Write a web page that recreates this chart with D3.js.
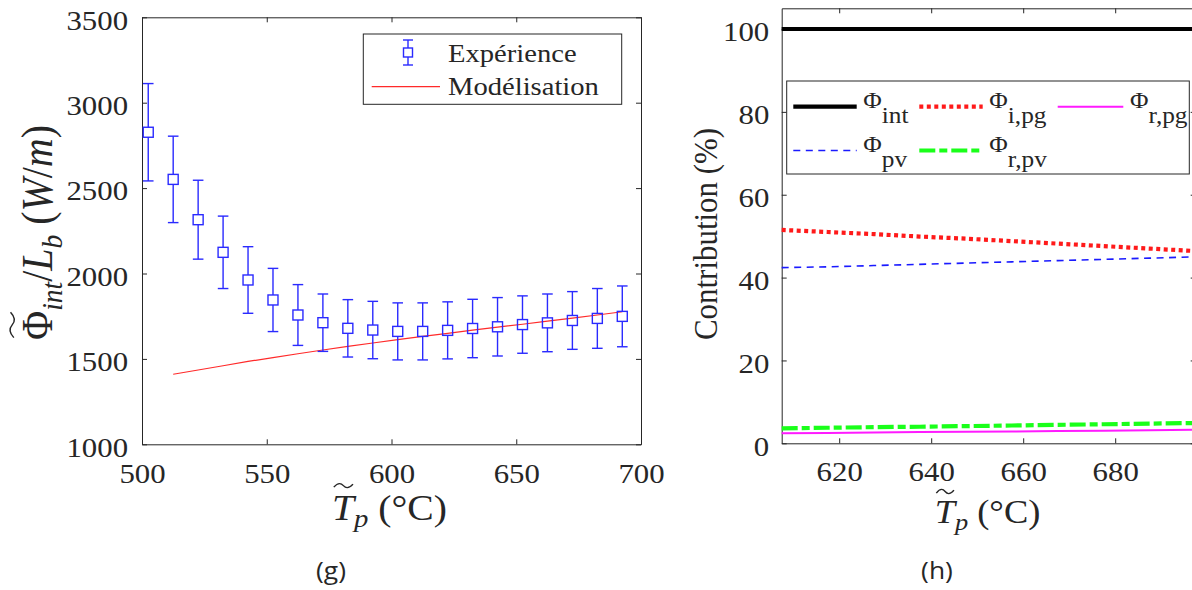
<!DOCTYPE html>
<html><head><meta charset="utf-8">
<script src="https://cdn.jsdelivr.net/npm/d3@7"></script>
<style>html,body{margin:0;padding:0;background:#fff;}svg{display:block;}</style>
</head><body>
<svg id="c" width="1192" height="590"></svg>
<script>
// ---------- data ----------
const expX   = [502.5,512.5,522.5,532.5,542.5,552.5,562.5,572.5,582.5,592.5,602.5,612.5,622.5,632.5,642.5,652.5,662.5,672.5,682.5,692.5];
const expY   = [2827,2551,2315,2124,1962,1845,1757,1712,1679,1669,1661,1661,1667,1678,1688,1701,1711,1725,1737,1749];
const expErr = [285,253,231,212,195,185,178,168,168,168,167,167,167,171,171,168,169,169,175,178];
const modX   = [512.5,522.5,532.5,542.5,552.5,562.5,572.5,582.5,592.5,602.5,612.5,622.5,632.5,642.5,652.5,662.5,672.5,682.5,692.5];
const modY   = [1410,1435,1460,1485,1508,1530,1552,1573,1593,1613,1632,1650,1668,1686,1703,1721,1739,1757,1776];
const leftXTicks = [500,550,600,650,700];
const leftYTicks = [1000,1500,2000,2500,3000,3500];

const contribX = [607.5,617.5,627.5,637.5,647.5,657.5,667.5,677.5,687.5,697.5];
const phiInt = [100,100,100,100,100,100,100,100,100,100];
const phiIpg = [51.5,51.0,50.5,49.9,49.4,48.8,48.2,47.6,47.0,46.4];
const phiPv  = [42.4,42.6,42.9,43.2,43.5,43.8,44.1,44.4,44.7,45.0];
const phiRpv = [3.6,3.75,3.9,4.0,4.15,4.3,4.45,4.6,4.75,4.9];
const phiRpg = [2.4,2.5,2.6,2.7,2.8,2.85,2.95,3.05,3.15,3.25];
const rightXTicks = [620,640,660,680];
const rightYTicks = [0,20,40,60,80,100];
const seriesNames = ["int","i,pg","r,pg","pv","r,pv"];

// ---------- setup ----------
const SX = 1.1;
const SERIF = "'Liberation Serif','Times New Roman',serif";
const INK = "#262626";
const svg = d3.select("#c");

function buildText(tx, ty, rot, segs, size, anchor, family) {
  const g = svg.append("g").attr("transform", `translate(${tx},${ty}) scale(${SX},1)` + (rot ? ` rotate(${rot})` : ""));
  const t = g.append("text").attr("font-family", family || SERIF).attr("font-size", size)
    .attr("fill", INK).attr("text-anchor", anchor || "start");
  let cur = 0;
  segs.forEach(s => {
    const sp = t.append("tspan").text(s.t);
    if (s.italic) sp.attr("font-style", "italic");
    if (s.size) sp.attr("font-size", s.size);
    const target = s.dy || 0;
    if (target !== cur) { sp.attr("dy", target - cur); cur = target; }
  });
  return {g, t};
}
function richText(tx, ty, rot, segs, size, anchor, family, fitLen) {
  let o = buildText(tx, ty, rot, segs, size, anchor, family);
  if (fitLen) {
    const k = fitLen / o.t.node().getComputedTextLength();
    o.g.remove();
    o = buildText(tx, ty, rot, segs.map(s => Object.assign({}, s, {size: s.size ? s.size*k : undefined, dy: s.dy ? s.dy*k : 0})), size*k, anchor, family);
  }
  return o;
}
function addTilde(obj, charIndex, lift) {
  const e = obj.t.node().getExtentOfChar(charIndex);
  const x0 = e.x + e.width * 0.08, x1 = e.x + e.width * 0.95, w = x1 - x0;
  const y = e.y + lift;
  const p = d3.path();
  p.moveTo(x0, y + 1.5);
  p.bezierCurveTo(x0 + w * 0.25, y - 4, x0 + w * 0.4, y - 2, x0 + w * 0.5, y);
  p.bezierCurveTo(x0 + w * 0.6, y + 2, x0 + w * 0.75, y + 4, x1, y - 1.5);
  obj.g.append("path").attr("d", p.toString()).attr("fill", "none").attr("stroke", INK).attr("stroke-width", 1.3);
}
function styleTicks(sel, size) {
  sel.selectAll("text").attr("font-family", SERIF).attr("font-size", size).attr("fill", INK)
    .attr("transform", `scale(${SX},1)`);
  sel.selectAll("line").attr("stroke", INK);
  sel.select(".domain").attr("stroke", INK);
}
const fmt = d3.format("d");

// ---------- left chart (g) ----------
const xL = d3.scaleLinear().domain([500,700]).range([142,641]);
const yL = d3.scaleLinear().domain([1000,3500]).range([444.3,17.3]);

const gLB = svg.append("g").attr("transform", `translate(0,${yL.range()[0]})`)
  .call(d3.axisBottom(xL).tickValues(leftXTicks).tickFormat(fmt).tickSizeInner(-5).tickSizeOuter(0).tickPadding(19));
styleTicks(gLB, 28);
const gLT = svg.append("g").attr("transform", `translate(0,${yL.range()[1]})`)
  .call(d3.axisTop(xL).tickValues(leftXTicks).tickSizeInner(-5).tickSizeOuter(0).tickFormat(""));
styleTicks(gLT, 28);
const gLL = svg.append("g").attr("transform", `translate(${xL.range()[0]},0)`)
  .call(d3.axisLeft(yL).tickValues(leftYTicks).tickFormat(fmt).tickSizeInner(-5).tickSizeOuter(0).tickPadding(12.7));
styleTicks(gLL, 28); gLL.selectAll("text").attr("dy", "0.42em");
const gLR = svg.append("g").attr("transform", `translate(${xL.range()[1]},0)`)
  .call(d3.axisRight(yL).tickValues(leftYTicks).tickSizeInner(-5).tickSizeOuter(0).tickFormat(""));
styleTicks(gLR, 28);

// model line
svg.append("path").datum(modX.map((x,i)=>[x,modY[i]]))
  .attr("d", d3.line().x(d=>xL(d[0])).y(d=>yL(d[1])))
  .attr("fill","none").attr("stroke","#ff2a2a").attr("stroke-width",1.2);

// error bars
const BLUE = "#2a2aff";
const eb = svg.append("g").attr("stroke", BLUE).attr("stroke-width", 1.4).attr("fill","none");
expX.forEach((x,i) => {
  const cx = xL(x), cy = yL(expY[i]), t = yL(expY[i]+expErr[i]), b = yL(expY[i]-expErr[i]);
  eb.append("line").attr("x1",cx).attr("x2",cx).attr("y1",t).attr("y2",cy-5);
  eb.append("line").attr("x1",cx).attr("x2",cx).attr("y1",cy+5).attr("y2",b);
  eb.append("line").attr("x1",cx-5.3).attr("x2",cx+5.3).attr("y1",t).attr("y2",t);
  eb.append("line").attr("x1",cx-5.3).attr("x2",cx+5.3).attr("y1",b).attr("y2",b);
  eb.append("rect").attr("x",cx-5).attr("y",cy-5).attr("width",10).attr("height",10);
});

// left legend
svg.append("rect").attr("x",363.3).attr("y",34).attr("width",258.4).attr("height",70.3)
  .attr("fill","#fff").attr("stroke",INK).attr("stroke-width",1);
const lg = svg.append("g").attr("stroke", BLUE).attr("stroke-width",1.4).attr("fill","none");
lg.append("line").attr("x1",408).attr("x2",408).attr("y1",40).attr("y2",65);
lg.append("line").attr("x1",403).attr("x2",413).attr("y1",40).attr("y2",40);
lg.append("line").attr("x1",403).attr("x2",413).attr("y1",65).attr("y2",65);
lg.append("rect").attr("x",403.5).attr("y",48).attr("width",9).attr("height",9).attr("fill","#fff");
svg.append("line").attr("x1",371.7).attr("x2",440).attr("y1",86.7).attr("y2",86.7).attr("stroke","#ff2a2a").attr("stroke-width",1.2);
richText(448, 62, 0, [{t:"Expérience"}], 26);
richText(448, 95, 0, [{t:"Modélisation"}], 26);

// left axis labels
const ylab = richText(52, 232.5, -90, [
  {t:"Φ"}, {t:"int", italic:true, size:22, dy:7}, {t:"/", dy:0}, {t:"L", italic:true},
  {t:"b", italic:true, size:22, dy:7}, {t:" (", dy:0}, {t:"W", italic:true}, {t:"/"}, {t:"m", italic:true}, {t:")"}
], 32, "middle", null, 215);
addTilde(ylab, 0, -1);
const xlabL = richText(389.5, 520, 0, [{t:"T", italic:true}, {t:"p", italic:true, size:21, dy:6}, {t:"  (°C)", dy:0}], 29, "middle", null, 104.5);
addTilde(xlabL, 0, -2);

// ---------- right chart (h) ----------
const xR = d3.scaleLinear().domain([607.5,697.5]).range([781.7,1195.7]);
const yR = d3.scaleLinear().domain([0,105]).range([443.3,8.3]);

const gRB = svg.append("g").attr("transform", `translate(0,${yR.range()[0]})`)
  .call(d3.axisBottom(xR).tickValues(rightXTicks).tickFormat(fmt).tickSizeInner(-5).tickSizeOuter(0).tickPadding(18));
styleTicks(gRB, 28);
const gRT = svg.append("g").attr("transform", `translate(0,${yR.range()[1]})`)
  .call(d3.axisTop(xR).tickValues(rightXTicks).tickSizeInner(-5).tickSizeOuter(0).tickFormat(""));
styleTicks(gRT, 28);
const gRL = svg.append("g").attr("transform", `translate(${xR.range()[0]},0)`)
  .call(d3.axisLeft(yR).tickValues(rightYTicks).tickFormat(fmt).tickSizeInner(-5).tickSizeOuter(0).tickPadding(11.3));
styleTicks(gRL, 28); gRL.selectAll("text").attr("dy", "0.42em");
const gRR = svg.append("g").attr("transform", `translate(${xR.range()[1]},0)`)
  .call(d3.axisRight(yR).tickValues(rightYTicks).tickSizeInner(-5).tickSizeOuter(0).tickFormat(""));
styleTicks(gRR, 28);

const styles = {
  "int":  {data: phiInt, color:"#000000", w:4.2, dash:null},
  "i,pg": {data: phiIpg, color:"#ff1a1a", w:4.2, dash:"4,3.5"},
  "r,pg": {data: phiRpg, color:"#ff1aff", w:2, dash:null},
  "pv":   {data: phiPv,  color:"#1a1aff", w:1.6, dash:"7,5.5"},
  "r,pv": {data: phiRpv, color:"#1aff1a", w:4.2, dash:"16,4,8,4"}
};
const lineR = d3.line().x(d=>xR(d[0])).y(d=>yR(d[1]));
["r,pg","r,pv","pv","i,pg","int"].forEach(k => {
  const s = styles[k];
  svg.append("path").datum(contribX.map((x,i)=>[x,s.data[i]])).attr("d", lineR)
    .attr("fill","none").attr("stroke", s.color).attr("stroke-width", s.w)
    .attr("stroke-dasharray", s.dash);
});

// right legend
svg.append("rect").attr("x",786.7).attr("y",81).attr("width",402.6).attr("height",93)
  .attr("fill","#fff").attr("stroke",INK).attr("stroke-width",1);
const legPos = [
  {k:"int",  x:793.3, y:106.7}, {k:"i,pg", x:919.3, y:106.7}, {k:"r,pg", x:1057.7, y:106.7},
  {k:"pv",   x:793.3, y:150.5}, {k:"r,pv", x:919.3, y:150.5}
];
legPos.forEach(p => {
  const s = styles[p.k];
  svg.append("line").attr("x1",p.x).attr("x2",p.x+(p.k==="r,pg"?65.6:63.4)).attr("y1",p.y).attr("y2",p.y)
    .attr("stroke", s.color).attr("stroke-width", s.w).attr("stroke-dasharray", s.dash);
  const tx = p.x + (p.k==="r,pg"?72.3:70);
  richText(tx, p.y + 1.5, 0, [{t:"Φ"}, {t:p.k, dy:15}], 23);
});

// right axis labels
richText(717, 234, -90, [{t:"Contribution (%)"}], 31, "middle", null, 212);
const xlabR = richText(987.5, 523, 0, [{t:"T", italic:true}, {t:"p", italic:true, size:21, dy:6}, {t:"  (°C)", dy:0}], 29, "middle", null, 96);
addTilde(xlabR, 0, -2);

// captions
richText(331, 579, 0, [{t:"(g)"}], 24, "middle", "'Open Sans','Noto Sans',sans-serif");
richText(937, 579, 0, [{t:"(h)"}], 24, "middle", "'Open Sans','Noto Sans',sans-serif");
</script>
</body></html>
